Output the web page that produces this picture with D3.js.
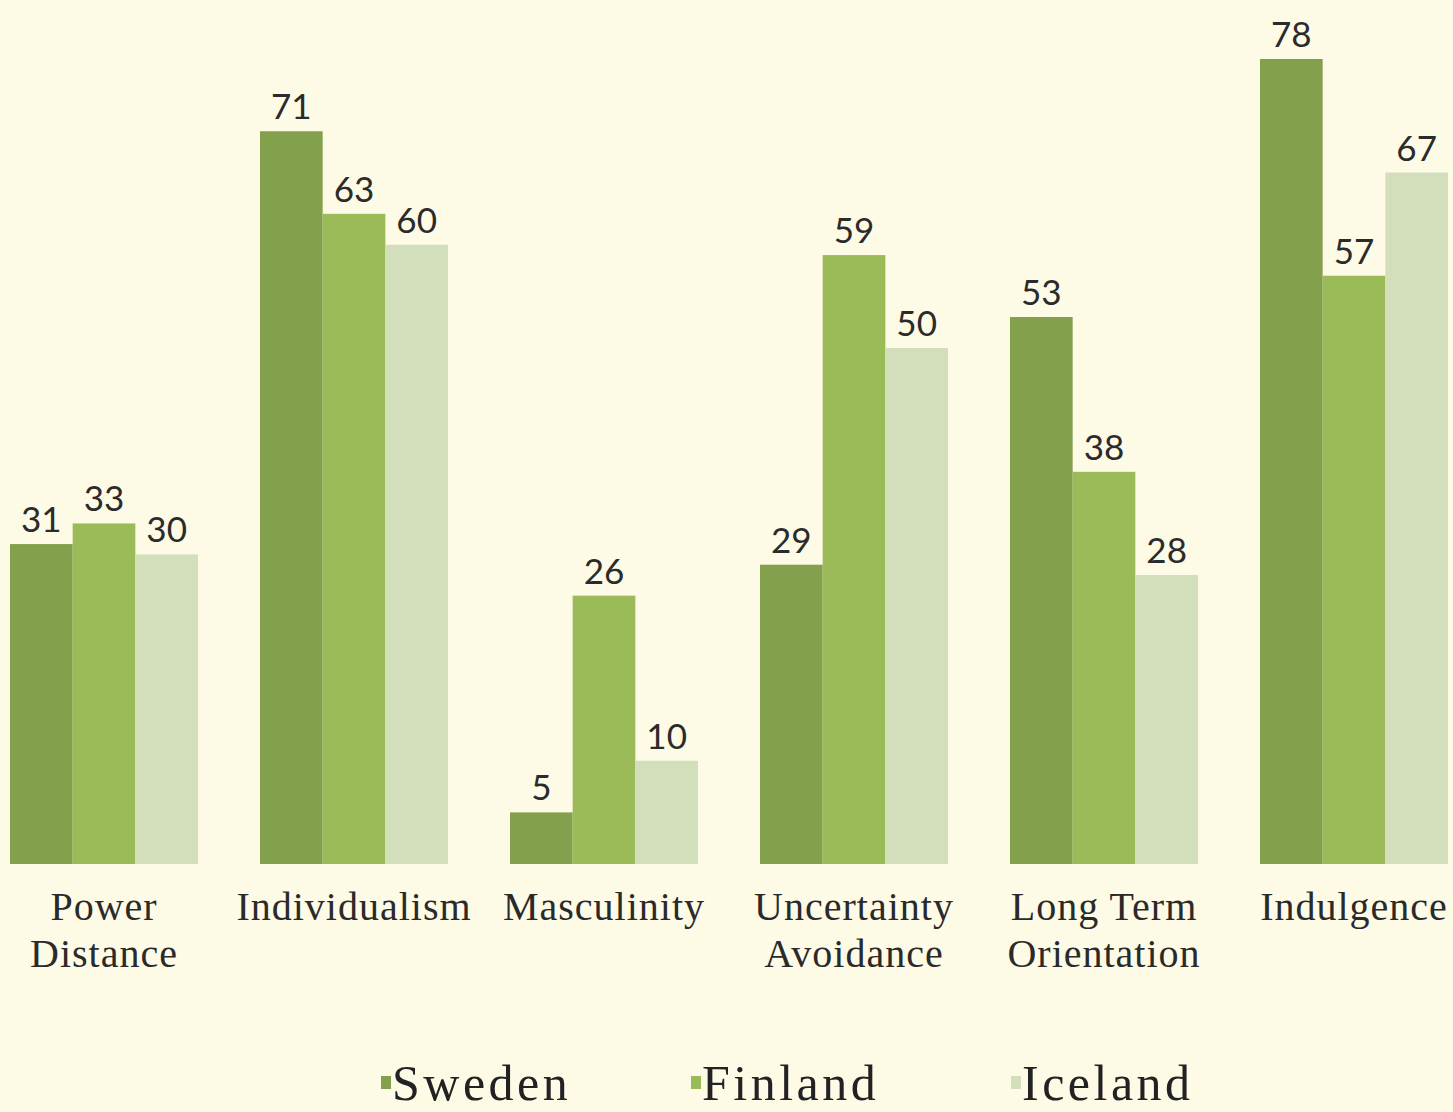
<!DOCTYPE html>
<html>
<head>
<meta charset="utf-8">
<script src="https://cdn.jsdelivr.net/npm/d3@7"></script>
<style>
  body { margin: 0; background: #fdfae6; }
  svg { display: block; }
  .value-label { font-family: Lato, "Open Sans", sans-serif; font-size: 35px; fill: #2b2b2b; }
  .cat-label { font-family: "Liberation Serif", "DejaVu Serif", serif; font-size: 40px; fill: #2a2a2a; letter-spacing: 1px; }
  .legend-text { font-family: "Liberation Serif", "DejaVu Serif", serif; font-size: 50px; fill: #222; letter-spacing: 3.5px; }
</style>
</head>
<body>
<div id="chart"></div>
<script>
const categories = [["Power", "Distance"], ["Individualism"], ["Masculinity"], ["Uncertainty", "Avoidance"], ["Long Term", "Orientation"], ["Indulgence"]]
const seriesNames = ["Sweden", "Finland", "Iceland"]
const sweden = [31, 71, 5, 29, 53, 78]
const finland = [33, 63, 26, 59, 38, 57]
const iceland = [30, 60, 10, 50, 28, 67]
const seriesColors = ["#83a04d", "#9bbb59", "#d3dfba"]

const width = 1453, height = 1112
const catKeys = categories.map(c => c.join(" "))
const values = [sweden, finland, iceland]

const rows = catKeys.map((k, i) => ({
    key: k,
    lines: categories[i],
    vals: seriesNames.map((s, j) => ({ series: s, value: values[j][i] }))
}))

const svg = d3.select("#chart").append("svg")
    .attr("width", width)
    .attr("height", height)

svg.append("rect").attr("width", width).attr("height", height).attr("fill", "#fdfae6")

const x = d3.scaleBand()
    .domain(catKeys)
    .range([-21, 1479])
    .paddingInner(0.248)
    .paddingOuter(0.124)

const xInner = d3.scaleBand()
    .domain(seriesNames)
    .range([0, x.bandwidth()])

const y = d3.scaleLinear()
    .domain([0, 78])
    .range([864, 59])

const color = d3.scaleOrdinal().domain(seriesNames).range(seriesColors)

const groups = svg.selectAll(".group")
    .data(rows)
    .join("g")
        .attr("class", "group")
        .attr("transform", d => `translate(${x(d.key)},0)`)

groups.selectAll("rect")
    .data(d => d.vals)
    .join("rect")
        .attr("x", d => xInner(d.series))
        .attr("y", d => y(d.value))
        .attr("width", xInner.bandwidth())
        .attr("height", d => y(0) - y(d.value))
        .attr("fill", d => color(d.series))

groups.selectAll(".value-label")
    .data(d => d.vals)
    .join("text")
        .attr("class", "value-label")
        .attr("x", d => xInner(d.series) + xInner.bandwidth() / 2)
        .attr("y", d => y(d.value) - 12)
        .attr("text-anchor", "middle")
        .text(d => d.value)

// category labels, wrapped like the original
const catText = groups.append("text")
    .attr("class", "cat-label")
    .attr("text-anchor", "middle")
    .attr("transform", `translate(${x.bandwidth() / 2},920)`)

catText.selectAll("tspan")
    .data(d => d.lines)
    .join("tspan")
        .attr("x", 0)
        .attr("dy", (d, i) => i ? 47 : 0)
        .text(d => d)

// legend
const legendX = [381, 691, 1011]
const legend = svg.selectAll(".legend")
    .data(seriesNames)
    .join("g")
        .attr("class", "legend")
        .attr("transform", (d, i) => `translate(${legendX[i]},1100)`)

legend.append("rect")
    .attr("x", 0)
    .attr("y", -24)
    .attr("width", 10)
    .attr("height", 13)
    .attr("fill", d => color(d))

legend.append("text")
    .attr("class", "legend-text")
    .attr("x", 11)
    .text(d => d)
</script>
</body>
</html>
